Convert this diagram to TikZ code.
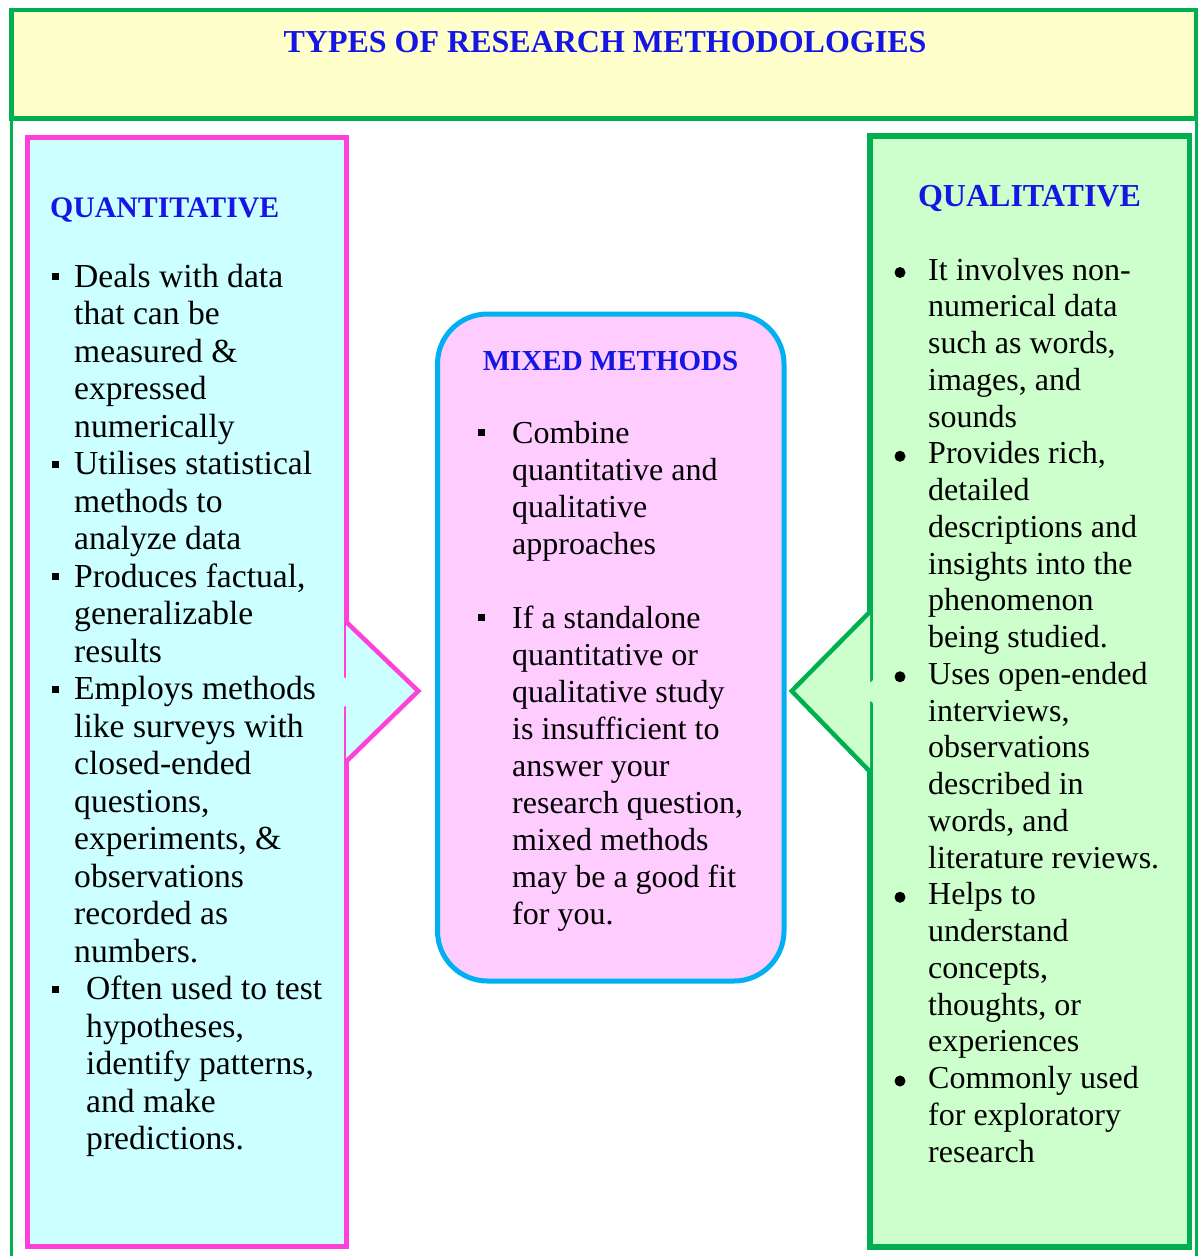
\documentclass[tikz,border=0pt]{standalone}
\usepackage{fontspec}
\setmainfont{Liberation Serif}
\definecolor{ttlblue}{RGB}{22,22,228}
\definecolor{frgreen}{RGB}{0,176,80}
\definecolor{pinkln}{RGB}{255,64,218}
\definecolor{cyanfill}{RGB}{204,255,255}
\definecolor{pinkfill}{RGB}{255,204,255}
\definecolor{greenfill}{RGB}{204,255,204}
\definecolor{yelfill}{RGB}{255,255,204}
\definecolor{midln}{RGB}{0,176,240}
\tikzset{
  head/.style={inner sep=0pt, anchor=base, text=ttlblue, font=\bfseries\fontsize{29}{34}\selectfont},
  lefttxt/.style={inner sep=0pt, anchor=base west, font=\fontsize{33.6}{38}\selectfont},
  bodytxt/.style={inner sep=0pt, anchor=base west, font=\fontsize{32}{37}\selectfont},
}
\begin{document}
\begin{tikzpicture}[x=1pt,y=-1pt]
\useasboundingbox (0,0) rectangle (1200,1256);
% outer frame sides
\draw[frgreen, line width=3pt] (11.5,118) -- (11.5,1256);
\draw[frgreen, line width=2.5pt] (1196.5,118) -- (1196.5,1256);
% title box
\draw[frgreen, fill=yelfill, line width=4.5pt] (11.3,10) rectangle (1196,118.3);
\node[head, font=\bfseries\fontsize{32}{38}\selectfont] (title) at (605,52) {TYPES OF RESEARCH METHODOLOGIES};

% left box
\fill[cyanfill] (27.5,137) rectangle (346,1246.5);
\draw[pinkln, line width=5pt, line cap=round] (346,708.3) -- (346,1246.5) -- (27.5,1246.5) -- (27.5,137) -- (346,137) -- (346,676);
\fill[cyanfill] (346,621.7) -- (418.3,691) -- (346,761.7) -- cycle;
\draw[pinkln, line width=4.5pt, line join=miter] (346,621.7) -- (418.3,691) -- (346,761.7);

% right box
\fill[greenfill] (870,136) rectangle (1189.5,1247);
\draw[frgreen, line width=5.5pt, line cap=round] (870,704) -- (870,1247) -- (1189.5,1247) -- (1189.5,136) -- (870,136) -- (870,679.3);
\fill[greenfill] (870,611.7) -- (791.7,691) -- (870,771.7) -- cycle;
\draw[frgreen, line width=4.5pt, line join=miter] (870,611.7) -- (791.7,691) -- (870,771.7);

% middle box
\draw[midln, fill=pinkfill, line width=5pt, rounded corners=50pt] (437.5,314) rectangle (784,981);

% headings
\node[head, anchor=base west, font=\bfseries\fontsize{29.8}{34}\selectfont] (quanth) at (50,217) {QUANTITATIVE};
\node[head, font=\bfseries\fontsize{32}{36}\selectfont] (qualh) at (1029.5,206) {QUALITATIVE};
\node[head] (mixh) at (610.5,370) {MIXED METHODS};

% left text
\foreach \t [count=\i from 0] in {Deals with data, that can be, measured \&, expressed, numerically,
  Utilises statistical, methods to, analyze data, {Produces factual,}, generalizable, results,
  Employs methods, like surveys with, closed-ended, {questions,}, {experiments, \&}, observations,
  recorded as, numbers.}
  \node[lefttxt] (L\i) at (74,287+37.5*\i) {\t};
\foreach \t [count=\i from 19] in {Often used to test, {hypotheses,}, {identify patterns,}, and make, predictions.}
  \node[lefttxt] (L\i) at (86,287+37.5*\i) {\t};
\foreach \i in {0,5,8,11,19}
  \fill (51.5,287+37.5*\i-14) rectangle +(7,7);

% middle text
\foreach \t [count=\i from 0] in {Combine, quantitative and, qualitative, approaches}
  \node[bodytxt] (M\i) at (512,443+37*\i) {\t};
\foreach \t [count=\i from 5] in {If a standalone, quantitative or, qualitative study, is insufficient to,
  answer your, {research question,}, mixed methods, may be a good fit, for you.}
  \node[bodytxt] (M\i) at (512,443+37*\i) {\t};
\foreach \i in {0,5}
  \fill (477.5,443+37*\i-14) rectangle +(7,7);

% right text
\foreach \t [count=\i from 0] in {It involves non-, numerical data, {such as words,}, {images, and}, sounds,
  {Provides rich,}, detailed, descriptions and, insights into the, phenomenon, being studied.,
  Uses open-ended, {interviews,}, observations, described in, {words, and}, literature reviews.,
  Helps to, understand, {concepts,}, {thoughts, or}, experiences,
  Commonly used, for exploratory, research}
  \node[bodytxt] (R\i) at (928,280+36.75*\i) {\t};
\foreach \i in {0,5,11,17,22}
  \fill (900,280+36.75*\i-7.5) circle (5.5);
\end{tikzpicture}
\end{document}
